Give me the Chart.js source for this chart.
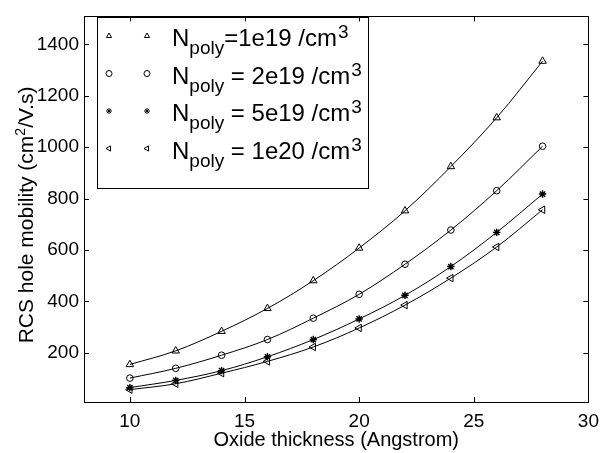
<!DOCTYPE html>
<html><head><meta charset="utf-8">
<script src="https://cdn.jsdelivr.net/npm/chart.js@4/dist/chart.umd.min.js"></script>
<style>html,body{margin:0;padding:0;background:#fff}#wrap{width:607px;height:453px;position:relative}</style>
</head><body><div id="wrap"><canvas id="c"></canvas></div>
<script>
const thickness = [10, 12, 14, 16, 18, 20, 22, 24, 26, 28];
const mob1e19 = [155, 208, 284, 373, 481, 608, 753, 925, 1115, 1335];
const mob2e19 = [102, 140, 191, 252, 335, 428, 545, 678, 831, 1004];
const mob5e19 = [65, 93, 131, 185, 252, 332, 424, 536, 669, 818];
const mob1e20 = [57, 80, 121, 167, 223, 297, 386, 491, 612, 757];
const xTicks = [10, 15, 20, 25, 30];
const yTicks = [200, 400, 600, 800, 1000, 1200, 1400];
const legendValues = ['=1e19 /cm', ' = 2e19 /cm', ' = 5e19 /cm', ' = 1e20 /cm'];
const xTitle = 'Oxide thickness (Angstrom)';
const yTitleParts = ['RCS hole mobility (cm', '2', '/V.s)'];

const FONT = '"Liberation Sans", Arial, Helvetica, sans-serif';
const styles = [
  {pointStyle: 'triangle', radius: 4.3, rotation: 0},
  {pointStyle: 'circle', radius: 3.3, rotation: 0},
  {pointStyle: 'star', radius: 3.7, rotation: 0},
  {pointStyle: 'triangle', radius: 4.3, rotation: -90}
];
const seriesValues = [mob1e19, mob2e19, mob5e19, mob1e20];

const datasets = seriesValues.map((vals, i) => ({
  label: 'Npoly' + legendValues[i] + '3',
  data: thickness.map((t, k) => ({x: t, y: vals[k]})),
  borderColor: '#000',
  borderWidth: 1,
  backgroundColor: 'rgba(0,0,0,0)',
  pointStyle: styles[i].pointStyle,
  pointRadius: styles[i].radius,
  pointRotation: styles[i].rotation,
  pointBorderColor: '#000',
  pointBackgroundColor: 'rgba(0,0,0,0)',
  pointBorderWidth: i === 2 ? 1.4 : 1,
  tension: 0.35,
  fill: false
}));

function drawMarker(ctx, style, x, y, r) {
  ctx.save();
  ctx.strokeStyle = '#000';
  ctx.lineWidth = 1;
  ctx.beginPath();
  if (style.pointStyle === 'circle') {
    ctx.arc(x, y, r, 0, Math.PI * 2);
  } else if (style.pointStyle === 'triangle') {
    const rot = style.rotation * Math.PI / 180;
    for (let k = 0; k < 3; k++) {
      const a = rot - Math.PI / 2 + k * 2 * Math.PI / 3;
      const px = x + Math.cos(a) * r, py = y + Math.sin(a) * r;
      if (k === 0) ctx.moveTo(px, py); else ctx.lineTo(px, py);
    }
    ctx.closePath();
  } else {
    for (let k = 0; k < 4; k++) {
      const a = k * Math.PI / 4;
      ctx.moveTo(x - Math.cos(a) * r, y - Math.sin(a) * r);
      ctx.lineTo(x + Math.cos(a) * r, y + Math.sin(a) * r);
    }
  }
  ctx.stroke();
  ctx.restore();
}

const decor = {
  id: 'decor',
  afterDraw(chart) {
    const ctx = chart.ctx;
    const a = chart.chartArea;
    const xs = chart.scales.x, ys = chart.scales.y;
    ctx.save();
    ctx.strokeStyle = '#000';
    ctx.lineWidth = 1;
    ctx.strokeRect(Math.round(a.left) + 0.5, Math.round(a.top) + 0.5, Math.round(a.right - a.left), Math.round(a.bottom - a.top));
    ctx.beginPath();
    xTicks.forEach(v => {
      const p = Math.round(xs.getPixelForValue(v)) + 0.5;
      ctx.moveTo(p, a.bottom); ctx.lineTo(p, a.bottom - 5);
      ctx.moveTo(p, a.top); ctx.lineTo(p, a.top + 5);
    });
    yTicks.forEach(v => {
      const p = Math.round(ys.getPixelForValue(v)) + 0.5;
      ctx.moveTo(a.left, p); ctx.lineTo(a.left + 5, p);
      ctx.moveTo(a.right, p); ctx.lineTo(a.right - 5, p);
    });
    ctx.stroke();

    ctx.fillStyle = '#000';
    ctx.font = '20px ' + FONT;
    ctx.textAlign = 'center';
    ctx.textBaseline = 'alphabetic';
    ctx.fillText(xTitle, (a.left + a.right) / 2, 446);

    ctx.save();
    ctx.translate(33, 215);
    ctx.rotate(-Math.PI / 2);
    ctx.textAlign = 'left';
    const mainF = '21px ' + FONT, supF = '14px ' + FONT;
    ctx.font = mainF; const w0 = ctx.measureText(yTitleParts[0]).width;
    ctx.font = supF; const w1 = ctx.measureText(yTitleParts[1]).width;
    ctx.font = mainF; const w2 = ctx.measureText(yTitleParts[2]).width;
    let x0 = -(w0 + w1 + w2) / 2;
    ctx.font = mainF; ctx.fillText(yTitleParts[0], x0, 0); x0 += w0;
    ctx.font = supF; ctx.fillText(yTitleParts[1], x0, -8); x0 += w1;
    ctx.font = mainF; ctx.fillText(yTitleParts[2], x0, 0);
    ctx.restore();

    ctx.strokeRect(97.5, 17.5, 271, 171);
    ctx.textAlign = 'left';
    for (let i = 0; i < 4; i++) {
      const base = 46 + i * 37.5;
      const my = base - 10;
      drawMarker(ctx, styles[i], 109, my, 3);
      drawMarker(ctx, styles[i], 147, my, 3);
      let x = 172;
      ctx.font = '24px ' + FONT;
      ctx.fillText('N', x, base); x += ctx.measureText('N').width;
      ctx.font = '19px ' + FONT;
      ctx.fillText('poly', x, base + 8); x += ctx.measureText('poly').width;
      ctx.font = '24px ' + FONT;
      ctx.fillText(legendValues[i], x, base); x += ctx.measureText(legendValues[i]).width;
      ctx.font = '19px ' + FONT;
      ctx.fillText('3', x + 1, base - 8);
    }
    ctx.restore();
  }
};

new Chart(document.getElementById('c'), {
  type: 'line',
  data: {datasets},
  options: {
    responsive: true,
    maintainAspectRatio: false,
    animation: false,
    layout: {padding: {top: 9, right: 17, left: 0, bottom: 0}},
    plugins: {legend: {display: false}, tooltip: {enabled: false}, title: {display: false}},
    scales: {
      x: {
        type: 'linear', min: 8, max: 30,
        afterBuildTicks: s => { s.ticks = xTicks.map(v => ({value: v})); },
        afterFit: s => { s.height = 51; },
        grid: {display: false, drawTicks: false},
        border: {display: false},
        ticks: {color: '#000', font: {family: FONT, size: 19}, padding: 8, maxRotation: 0, autoSkip: false,
                callback: v => String(v)}
      },
      y: {
        type: 'linear', min: 9, max: 1509,
        afterBuildTicks: s => { s.ticks = yTicks.map(v => ({value: v})); },
        afterFit: s => { s.width = 84; },
        grid: {display: false, drawTicks: false},
        border: {display: false},
        ticks: {color: '#000', font: {family: FONT, size: 19}, padding: 5, autoSkip: false,
                callback: v => String(v)}
      }
    }
  },
  plugins: [decor]
});
</script>
</body></html>
